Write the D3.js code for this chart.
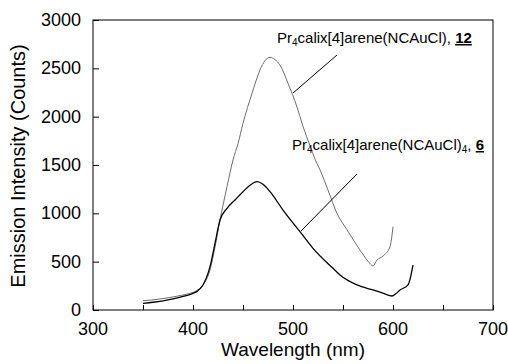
<!DOCTYPE html>
<html lang="en">
<head>
<meta charset="UTF-8">
<title>Emission spectra</title>
<script src="https://d3js.org/d3.v7.min.js"></script>
<style>
  body { margin: 0; background: #fff; }
  text { font-family: Arial, "Liberation Sans", Helvetica, sans-serif; }
</style>
</head>
<body>
<svg id="chart" width="508" height="364"></svg>
<script>
// wavelength (nm) / intensity (counts)
const wl12 = [350, 360, 370, 380, 390, 397, 405, 410, 417, 422, 427, 434, 440, 445, 450, 459, 467, 472, 477, 482, 487, 495, 504, 510, 517, 522, 527, 535, 544, 554, 567, 574, 578, 580, 584, 590, 597, 600];
const int12 = [96, 105, 118, 135, 155, 172, 210, 260, 414, 650, 930, 1276, 1552, 1720, 1931, 2241, 2483, 2580, 2614, 2590, 2534, 2345, 2100, 1900, 1700, 1560, 1450, 1240, 1000, 830, 620, 517, 470, 455, 517, 558, 655, 862];

const wl6 = [350, 360, 370, 380, 390, 400, 405, 410, 417, 422, 427, 434, 442, 450, 457, 464, 470, 477, 490, 507, 520, 540, 547, 564, 580, 590, 599, 603, 607, 615, 620];
const int6 = [69, 80, 95, 115, 140, 172, 200, 259, 448, 690, 931, 1052, 1138, 1224, 1290, 1327, 1300, 1224, 1034, 810, 638, 431, 362, 259, 207, 175, 145, 170, 207, 259, 465];

const xTicks = [300, 400, 500, 600, 700];
const xMinor = [350, 450, 550, 650];
const yTicks = [0, 500, 1000, 1500, 2000, 2500, 3000];

const svg = d3.select("#chart");
const margin = { top: 20, right: 15, bottom: 54, left: 93 };
const width = 508 - margin.left - margin.right;
const height = 364 - margin.top - margin.bottom;

const x = d3.scaleLinear().domain([300, 700]).range([margin.left, margin.left + width]);
const y = d3.scaleLinear().domain([0, 3000]).range([margin.top + height, margin.top]);

// frame
svg.append("rect")
    .attr("x", x(300)).attr("y", y(3000))
    .attr("width", x(700) - x(300)).attr("height", y(0) - y(3000))
    .attr("fill", "none").attr("stroke", "#000").attr("stroke-width", 1);

// inward ticks
const xAxis = svg.append("g").attr("transform", `translate(0,${y(0)})`)
    .call(d3.axisTop(x).tickValues(xTicks.concat(xMinor)).tickSize(5).tickFormat(""));
const yAxis = svg.append("g").attr("transform", `translate(${x(300)},0)`)
    .call(d3.axisRight(y).tickValues(yTicks).tickSize(6).tickFormat(""));
[xAxis, yAxis].forEach(g => {
    g.select(".domain").remove();
    g.selectAll("line").attr("stroke", "#000");
});

// tick labels
svg.append("g").selectAll("text")
    .data(xTicks).join("text")
    .attr("x", d => x(d)).attr("y", y(0) + 25)
    .attr("text-anchor", "middle")
    .attr("font-size", 18)
    .text(d => d);

svg.append("g").selectAll("text")
    .data(yTicks).join("text")
    .attr("x", x(300) - 12).attr("y", d => y(d) + 6)
    .attr("text-anchor", "end")
    .attr("font-size", 18)
    .text(d => d);

// axis titles
svg.append("text")
    .attr("x", x(500)).attr("y", 356)
    .attr("text-anchor", "middle")
    .attr("font-size", 19)
    .text("Wavelength (nm)");

svg.append("text")
    .attr("transform", `translate(25,${(y(0) + y(3000)) / 2 + 1}) rotate(-90)`)
    .attr("text-anchor", "middle")
    .attr("font-size", 20)
    .text("Emission Intensity (Counts)");

// spectra
const line = d3.line().x(d => x(d[0])).y(d => y(d[1])).curve(d3.curveMonotoneX);

svg.append("path")
    .datum(d3.zip(wl12, int12))
    .attr("d", line)
    .attr("fill", "none")
    .attr("stroke", "#6e6e6e")
    .attr("stroke-width", 1);

svg.append("path")
    .datum(d3.zip(wl6, int6))
    .attr("d", line)
    .attr("fill", "none")
    .attr("stroke", "#000")
    .attr("stroke-width", 1.3);

// labels with leader lines
function label(tx, ty, sub, num) {
    const t = svg.append("text").attr("x", tx).attr("y", ty).attr("font-size", 15);
    t.append("tspan").text("Pr");
    t.append("tspan").attr("font-size", 10).attr("dy", 3).text("4");
    t.append("tspan").attr("dy", -3).text("calix[4]arene(NCAuCl)");
    if (sub) {
        t.append("tspan").attr("font-size", 10).attr("dy", 3).text(sub);
        t.append("tspan").attr("dy", -3).text(", ");
    } else {
        t.append("tspan").text(", ");
    }
    t.append("tspan").attr("font-weight", "bold")
        .attr("text-decoration", "underline").text(num);
}

label(277, 43, null, "12");
label(292, 150, "4", "6");

svg.append("line")
    .attr("x1", 337).attr("y1", 55).attr("x2", 293).attr("y2", 93)
    .attr("stroke", "#000").attr("stroke-width", 1);
svg.append("line")
    .attr("x1", 357).attr("y1", 174).attr("x2", 301).attr("y2", 231)
    .attr("stroke", "#000").attr("stroke-width", 1);
</script>
</body>
</html>
